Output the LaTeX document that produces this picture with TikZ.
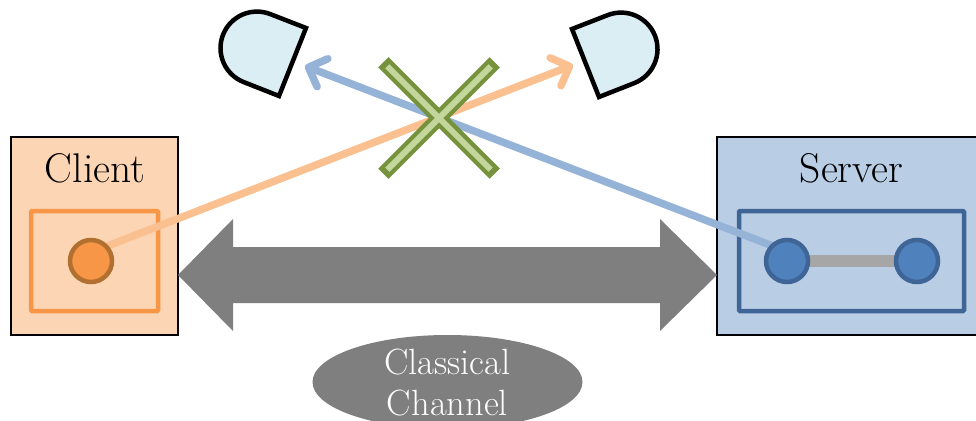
\documentclass[tikz,border=0pt]{standalone}
\usetikzlibrary{arrows.meta,shapes.geometric,calc}
\definecolor{clientfill}{HTML}{FCD5B5}
\definecolor{clientline}{HTML}{F79646}
\definecolor{clientdot}{HTML}{B1702F}
\definecolor{orangebeam}{HTML}{FAC090}
\definecolor{serverfill}{HTML}{B9CDE5}
\definecolor{serverline}{HTML}{3E6595}
\definecolor{serverdot}{HTML}{4F81BD}
\definecolor{bluebeam}{HTML}{95B3D7}
\definecolor{linkgrey}{HTML}{A6A6A6}
\definecolor{chan}{HTML}{7F7F7F}
\definecolor{det}{HTML}{DBEEF4}
\definecolor{xdark}{HTML}{76923C}
\definecolor{xlight}{HTML}{C3D69B}
\tikzset{
  party/.style={draw=black,line width=2pt,minimum height=198pt,inner sep=0pt},
  innerbox/.style={line width=4.5pt,rounded corners=1pt,minimum height=100pt,inner sep=0pt},
  qubit/.style={circle,line width=4.5pt,minimum size=42pt,inner sep=0pt},
  beam/.style={line width=7.5pt,-{Straight Barb[length=15pt,width=30pt,round]}},
  detector/.style={draw=black,fill=det,line width=4.5pt,line join=miter},
  caption/.style={font=\fontsize{41.5}{44}\selectfont,inner sep=0pt},
  chancaption/.style={font=\fontsize{36.5}{40}\selectfont,inner sep=0pt,text=white},
}
\begin{document}
\begin{tikzpicture}[x=1pt,y=-1pt]
\clip (0,0) rectangle (976,420);
\fill[white] (0,0) rectangle (976,420);
% party boxes
\node[party,fill=clientfill,minimum width=167pt] (client) at (94.5,236) {};
\node[party,fill=serverfill,minimum width=270pt] (server) at (852,236) {};
\node[caption] (clientlabel) at (95,168) {Client};
\node[caption] (serverlabel) at (851.5,168.5) {Server};
\node[innerbox,draw=clientline,minimum width=127pt] (cinner) at (94.5,261) {};
\node[innerbox,draw=serverline,minimum width=225pt] (sinner) at (851.5,261) {};
% classical channel
\fill[chan] (178,275) -- (233,219) -- (233,247) -- (660,247) -- (660,219) -- (717,275)
  -- (660,331) -- (660,303) -- (233,303) -- (233,331) -- cycle;
\node[ellipse,fill=chan,minimum width=270pt,minimum height=94pt,inner sep=0pt] (channel) at (447.5,382) {};
\node[chancaption] (ch1) at (447.5,362) {Classical};
\node[chancaption] (ch2) at (447.5,403.5) {Channel};
% detectors
\path[detector] (306,28) -- (279,96) -- (243.5,82) arc[start angle=111.7,end angle=291.7,radius=36.5] -- cycle;
\path[detector] (572,29) -- (599,97) -- (634.5,83) arc[start angle=68.3,end angle=-111.7,radius=36.5] -- cycle;
% beams
\coordinate (tipL) at (305,66);
\coordinate (tipR) at (573,65);
\coordinate (cq) at (91,261);
\coordinate (sq) at (787,261);
\coordinate (sr) at (917,261);
\coordinate (cstart) at (106,246.6);
\coordinate (sstart) at (774,246.5);
\draw[beam,orangebeam] (cstart) -- (tipR);
\draw[beam,bluebeam] (sstart) -- (tipL);
% link and qubits
\draw[linkgrey,line width=12pt] (sq) -- (sr);
\node[qubit,draw=clientdot,fill=clientline] (c1) at (cq) {};
\node[qubit,draw=serverline,fill=serverdot] (s1) at (sq) {};
\node[qubit,draw=serverline,fill=serverdot] (s2) at (sr) {};
% cross
\draw[xdark,line width=14.5pt] (383.3,62.3) -- (494.7,173.7);
\draw[xdark,line width=14.5pt] (494.7,62.3) -- (383.3,173.7);
\draw[xlight,line width=6pt] (387.3,66.3) -- (490.7,169.7);
\draw[xlight,line width=6pt] (490.7,66.3) -- (387.3,169.7);
\end{tikzpicture}
\end{document}
